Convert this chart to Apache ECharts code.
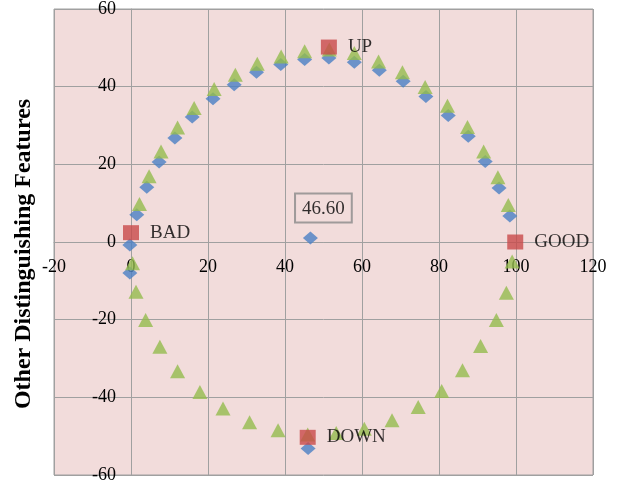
<!DOCTYPE html>
<html>
<head>
<meta charset="utf-8">
<script src="https://cdn.jsdelivr.net/npm/echarts@6/dist/echarts.min.js"></script>
<style>
html,body{margin:0;padding:0;background:#ffffff;}
#chart{width:618px;height:481px;}
</style>
</head>
<body>
<div id="chart"></div>
<script>
// ---- data ----
const xTicks = [-20, 0, 20, 40, 60, 80, 100, 120];
const yTicks = [-60, -40, -20, 0, 20, 40, 60];
const yAxisTitle = 'Other Distinguishing Features';

// blue diamonds
const blueX = [-0.3, -0.3, 1.5, 4.1, 7.3, 11.4, 15.9, 21.3, 26.8, 32.6, 38.9, 45.1, 51.4, 58.0, 64.5, 70.7, 76.6, 82.4, 87.6, 92.0, 95.6, 98.4, 46.0];
const blueY = [-0.8, -8.0, 7.0, 14.1, 20.6, 26.8, 32.2, 36.9, 40.5, 43.7, 45.7, 47.0, 47.4, 46.3, 44.2, 41.4, 37.5, 32.6, 27.2, 20.7, 13.9, 6.7, -53.2];

// green triangles
const greenX = [2.2, 4.7, 7.8, 12.1, 16.4, 21.6, 27.1, 32.8, 39.0, 45.1, 51.5, 58.0, 64.3, 70.5, 76.4, 82.2, 87.4, 91.6, 95.3, 98.0, 99.0,
                97.5, 94.9, 90.8, 86.1, 80.7, 74.6, 67.8, 60.6, 53.3, 45.9, 38.2, 30.8, 23.9, 17.9, 12.1, 7.5, 3.8, 1.3, 0.4];
const greenY = [9.8, 16.9, 23.3, 29.5, 34.5, 39.4, 43.1, 45.9, 47.8, 49.1, 49.6, 48.7, 46.5, 43.7, 39.9, 35.1, 29.6, 23.3, 16.7, 9.5, -5.0,
                -13.1, -20.1, -26.8, -33.0, -38.4, -42.5, -45.9, -48.1, -49.2, -49.6, -48.5, -46.4, -42.9, -38.6, -33.3, -27.0, -20.1, -12.8, -5.5];

// red squares with names
const redNames = ['BAD', 'UP', 'GOOD', 'DOWN'];
const redX = [0.0, 51.4, 99.8, 45.9];
const redY = [2.4, 50.2, 0.0, -50.3];

// centre point
const centerX = [46.6];
const centerY = [1.0];

// ---- build chart ----
const serif = "'Liberation Serif','Times New Roman',serif";
const zip = (xs, ys) => xs.map((x, i) => [x, ys[i]]);
const gridColor = '#a0a0a0';

const chart = echarts.init(document.getElementById('chart'), null, {renderer: 'canvas'});
chart.setOption({
  animation: false,
  backgroundColor: '#ffffff',
  grid: {
    left: 54, right: 25, top: 9, bottom: 6,
    show: true, backgroundColor: '#f2dcdb', borderColor: gridColor, borderWidth: 1,
    containLabel: false,
    outerBoundsMode: 'none'
  },
  xAxis: {
    type: 'value', position: 'bottom',
    min: xTicks[0], max: xTicks[xTicks.length - 1], interval: 20,
    axisLine: {show: true, onZero: false, lineStyle: {color: gridColor, width: 1}},
    axisTick: {show: true, length: 6, lineStyle: {color: gridColor}},
    splitLine: {show: true, lineStyle: {color: gridColor, width: 1}},
    axisLabel: {
      fontFamily: serif, fontSize: 18, color: '#000', margin: 16,
      showMinLabel: true, showMaxLabel: true,
      formatter: v => String(v)
    }
  },
  yAxis: {
    type: 'value', position: 'left',
    min: yTicks[0], max: yTicks[yTicks.length - 1], interval: 20,
    name: yAxisTitle,
    nameLocation: 'middle',
    nameGap: 95,
    nameTextStyle: {fontFamily: serif, fontSize: 24, fontWeight: 'bold', color: '#000', padding: [0, 24, 0, 0]},
    axisLine: {show: true, onZero: false, lineStyle: {color: gridColor, width: 1}},
    axisTick: {show: true, length: 6, lineStyle: {color: gridColor}},
    splitLine: {show: true, lineStyle: {color: gridColor, width: 1}},
    axisLabel: {
      fontFamily: serif, fontSize: 18, color: '#000', margin: 15,
      showMinLabel: true, showMaxLabel: true,
      formatter: v => String(v)
    }
  },
  series: [
    {
      name: 'blue', type: 'scatter', symbol: 'diamond', symbolSize: [15, 13],
      itemStyle: {color: '#4a7fc4'},
      data: zip(blueX, blueY), z: 2
    },
    {
      name: 'center', type: 'scatter', symbol: 'diamond', symbolSize: [15, 13],
      itemStyle: {color: '#4a7fc4'},
      data: zip(centerX, centerY), z: 2,
      label: {
        show: true, position: 'top', distance: 9, offset: [13, 0],
        formatter: p => p.value[0].toFixed(2),
        fontFamily: serif, fontSize: 19, color: '#000',
        borderColor: '#8a8a8a', borderWidth: 1, padding: [6, 7, 4, 7],
        backgroundColor: 'transparent'
      }
    },
    {
      name: 'green', type: 'scatter', symbol: 'triangle', symbolSize: [15, 14],
      itemStyle: {color: '#94bb4e'},
      data: zip(greenX, greenY), z: 3
    },
    {
      name: 'red', type: 'scatter', symbol: 'rect', symbolSize: [16, 15],
      itemStyle: {color: '#c84a4a'},
      data: redNames.map((n, i) => ({name: n, value: [redX[i], redY[i]]})), z: 4,
      label: {
        show: true, position: 'right', distance: 11,
        formatter: p => p.name,
        fontFamily: serif, fontSize: 19, color: '#000'
      }
    }
  ]
});

// Move both axes so that they cross at the origin (0, 0), using the chart's own scales.
const origin = chart.convertToPixel({gridIndex: 0}, [0, 0]);
const corner = chart.convertToPixel({gridIndex: 0}, [xTicks[0], yTicks[0]]);
chart.setOption({
  xAxis: {offset: -(corner[1] - origin[1])},
  yAxis: {offset: -(origin[0] - corner[0])}
});
</script>
</body>
</html>
